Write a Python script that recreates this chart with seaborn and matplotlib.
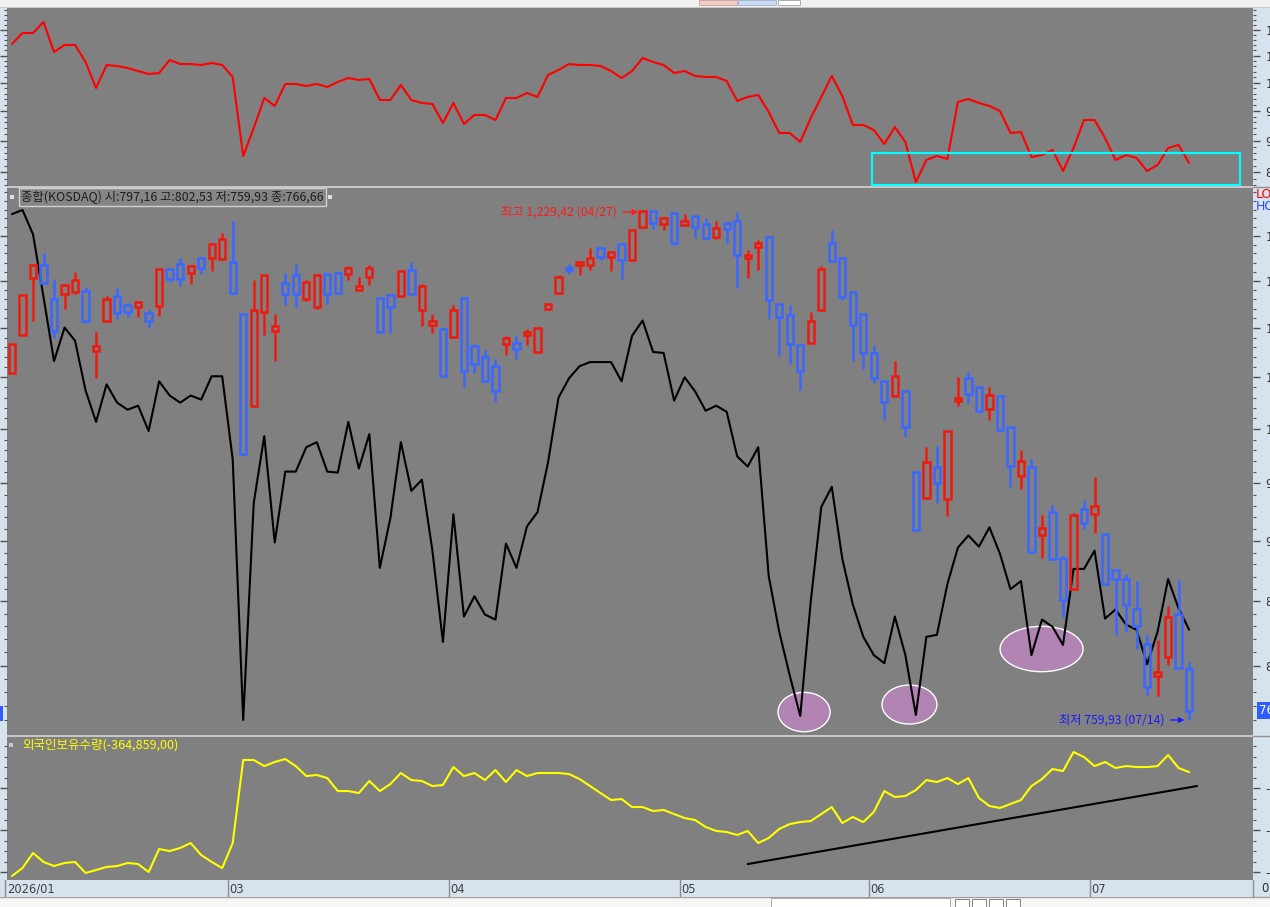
import numpy as np
import pandas as pd
import matplotlib
matplotlib.use("Agg")
import matplotlib.pyplot as plt
import matplotlib.transforms as mtransforms
from matplotlib.patches import Rectangle, Ellipse
from matplotlib.lines import Line2D
from matplotlib.ticker import FixedLocator, NullFormatter, FuncFormatter
import seaborn as sns

sns.set_style("white")
plt.rcParams['font.family'] = ['Noto Sans CJK KR', 'DejaVu Sans']

# ---------------- data ----------------
month_labels = ["2026/01", "03", "04", "05", "06", "07"]
month_index = [0, 21, 42, 64, 82, 103]

kosdaq_open = [1054.0, 1093.0, 1153.1, 1167.6, 1130.2, 1135.6, 1137.8, 1138.9, 1076.4, 1107.7,
               1133.5, 1123.7, 1121.6, 1115.2, 1122.7, 1163.1, 1168.7, 1158.7, 1175.4, 1175.4,
               1174.3, 1170.9, 1114.1, 1022.2, 1116.2, 1097.2, 1147.6, 1156.4, 1130.2, 1121.6,
               1157.6, 1158.7, 1157.6, 1140.0, 1154.2, 1131.3, 1134.5, 1133.5, 1162.0, 1118.4,
               1103.5, 1099.3, 1090.9, 1131.3, 1081.6, 1070.2, 1061.1, 1083.6, 1084.7, 1093.0,
               1075.4, 1119.4, 1136.7, 1164.2, 1167.6, 1167.6, 1185.6, 1176.5, 1190.1, 1173.2,
               1210.4, 1228.3, 1213.1, 1225.9, 1212.0, 1222.4, 1213.1, 1198.1, 1214.3, 1216.6,
               1175.4, 1186.7, 1198.1, 1124.8, 1113.0, 1082.6, 1084.7, 1118.4, 1191.3, 1175.4,
               1137.8, 1114.1, 1074.4, 1046.0, 1032.0, 1036.0, 960.6, 937.0, 964.4, 936.1,
               1027.1, 1049.0, 1040.0, 1019.3, 1031.1, 1001.9, 956.9, 964.4, 904.4, 924.5,
               885.6, 859.7, 927.2, 922.8, 905.3, 875.5, 868.0, 844.2, 816.5, 791.8,
               806.4, 840.2, 797.16]
kosdaq_high = [1083.6, 1134.5, 1168.7, 1181.0, 1152.0, 1146.5, 1159.8, 1143.2, 1096.2, 1133.5,
               1142.1, 1125.9, 1128.1, 1118.4, 1164.2, 1164.2, 1175.4, 1167.6, 1176.5, 1191.3,
               1202.7, 1216.6, 1114.1, 1150.9, 1156.4, 1114.1, 1158.7, 1168.7, 1150.9, 1157.6,
               1158.7, 1159.8, 1166.4, 1154.2, 1167.6, 1131.3, 1135.6, 1162.0, 1170.9, 1146.5,
               1114.1, 1100.3, 1123.7, 1132.4, 1083.6, 1077.4, 1068.2, 1092.0, 1092.0, 1099.3,
               1101.4, 1125.9, 1156.4, 1168.7, 1172.1, 1185.6, 1187.8, 1182.2, 1190.1, 1207.3,
               1229.42, 1228.3, 1221.3, 1225.9, 1224.8, 1222.4, 1220.1, 1216.6, 1214.3, 1227.1,
               1184.4, 1194.7, 1199.3, 1124.8, 1123.7, 1082.6, 1116.2, 1166.4, 1206.2, 1175.4,
               1137.8, 1114.1, 1082.6, 1046.0, 1066.2, 1036.0, 960.6, 982.9, 983.9, 998.1,
               1050.0, 1055.0, 1040.0, 1040.0, 1031.1, 1001.9, 980.1, 971.7, 921.9, 930.8,
               887.3, 923.7, 935.2, 956.0, 905.3, 875.5, 872.2, 866.3, 823.5, 819.6,
               845.9, 867.1, 802.53]
kosdaq_low = [1054.0, 1093.0, 1107.7, 1146.5, 1089.9, 1119.4, 1135.6, 1104.6, 1049.0, 1106.7,
              1109.8, 1110.9, 1110.9, 1100.3, 1112.0, 1148.7, 1144.3, 1146.5, 1157.6, 1160.9,
              1173.2, 1135.6, 975.4, 1022.2, 1093.0, 1066.2, 1123.7, 1121.6, 1128.1, 1119.4,
              1124.8, 1136.7, 1150.9, 1138.9, 1145.4, 1096.2, 1095.1, 1132.4, 1135.6, 1102.4,
              1095.1, 1050.0, 1089.9, 1040.0, 1054.0, 1045.0, 1026.1, 1072.3, 1068.2, 1082.6,
              1074.4, 1118.4, 1135.6, 1157.6, 1156.4, 1162.0, 1173.2, 1160.9, 1152.0, 1172.1,
              1209.3, 1207.3, 1206.2, 1189.0, 1212.0, 1197.0, 1195.8, 1195.8, 1191.3, 1142.1,
              1153.1, 1162.0, 1109.8, 1071.3, 1063.1, 1037.0, 1084.7, 1118.4, 1172.1, 1129.1,
              1066.2, 1058.0, 1044.0, 1008.6, 1032.0, 992.4, 907.9, 937.0, 932.5, 921.0,
              1022.2, 1025.1, 1015.4, 1008.6, 997.1, 946.9, 945.1, 890.7, 885.6, 883.9,
              837.8, 858.9, 909.6, 906.1, 863.0, 823.5, 825.9, 812.6, 777.9, 777.1,
              800.2, 797.2, 759.93]
kosdaq_close = [1083.6, 1134.5, 1167.6, 1147.6, 1097.2, 1145.4, 1150.9, 1106.7, 1081.6, 1130.2,
                1115.2, 1116.2, 1127.0, 1106.7, 1163.1, 1152.0, 1152.0, 1166.4, 1164.2, 1190.1,
                1195.8, 1136.7, 976.4, 1118.4, 1156.4, 1102.4, 1135.6, 1135.6, 1148.7, 1156.4,
                1135.6, 1136.7, 1164.2, 1144.3, 1164.2, 1096.2, 1121.6, 1160.9, 1135.6, 1144.3,
                1107.7, 1051.0, 1118.4, 1056.0, 1063.1, 1046.0, 1036.0, 1089.9, 1078.5, 1096.2,
                1100.3, 1124.8, 1154.2, 1162.0, 1170.9, 1175.4, 1176.5, 1182.2, 1173.2, 1206.2,
                1228.3, 1214.3, 1220.1, 1191.3, 1216.6, 1209.6, 1197.0, 1208.5, 1207.3, 1178.8,
                1178.8, 1191.3, 1129.1, 1110.9, 1083.6, 1056.0, 1107.7, 1163.1, 1172.1, 1132.4,
                1103.5, 1074.4, 1049.0, 1026.1, 1051.0, 1001.9, 908.8, 968.9, 950.5, 998.1,
                1030.1, 1034.0, 1017.3, 1033.0, 999.0, 966.1, 969.8, 890.7, 910.5, 884.8,
                850.7, 921.9, 914.9, 929.9, 863.8, 868.0, 846.7, 830.6, 784.3, 794.9,
                837.8, 797.9, 766.66]

# black comparison line in the price panel (relative units, no axis shown)
sub_index = [104.4, 105.2, 100.4, 88.0, 75.4, 82.0, 79.4, 69.6, 63.4, 70.8,
             67.2, 65.8, 66.6, 61.6, 71.4, 68.6, 67.2, 68.6, 67.8, 72.4,
             72.4, 56.0, 4.6, 47.4, 60.6, 39.6, 53.6, 53.6, 58.4, 59.4,
             53.6, 53.4, 63.4, 54.2, 61.0, 34.6, 44.4, 59.4, 49.8, 52.0,
             38.0, 20.0, 45.2, 25.0, 29.0, 25.4, 24.4, 39.4, 34.6, 42.8,
             45.6, 55.4, 68.2, 72.0, 74.4, 75.2, 75.2, 75.2, 71.4, 80.4,
             83.4, 77.2, 77.0, 67.6, 72.2, 69.4, 65.6, 66.6, 65.4, 56.6,
             54.6, 58.4, 33.0, 22.0, 13.4, 5.4, 28.0, 46.6, 50.6, 36.4,
             27.4, 21.0, 17.4, 15.8, 25.0, 17.4, 5.6, 21.0, 21.4, 31.4,
             38.6, 41.0, 38.8, 42.6, 37.4, 30.4, 32.0, 17.4, 24.4, 23.0,
             19.4, 34.4, 34.4, 38.0, 24.6, 26.4, 23.4, 22.4, 15.6, 22.0,
             32.4, 26.6, 22.4]

# red line of the upper panel
upper_index = [10724, 10940, 10940, 11161, 10569, 10705, 10705, 10379, 9901, 10323,
               10304, 10267, 10211, 10156, 10174, 10417, 10341, 10341, 10323, 10360,
               10323, 10101, 8751, 9208, 9723, 9583, 9973, 9973, 9937, 9973,
               9919, 10010, 10082, 10046, 10064, 9688, 9688, 9955, 9688, 9635,
               9618, 9292, 9635, 9275, 9428, 9428, 9342, 9723, 9723, 9812,
               9741, 10137, 10230, 10341, 10323, 10323, 10304, 10211, 10082, 10211,
               10455, 10379, 10323, 10174, 10211, 10119, 10101, 10101, 10028, 9670,
               9741, 9776, 9479, 9125, 9125, 8977, 9377, 9741, 10119, 9759,
               9258, 9258, 9174, 8944, 9224, 8977, 8348, 8688, 8751, 8704,
               9653, 9706, 9635, 9583, 9496, 9125, 9141, 8735, 8767, 8847,
               8517, 8879, 9342, 9342, 9042, 8688, 8767, 8720, 8517, 8610,
               8879, 8928, 8641]

# foreign holdings (yellow, lower panel)
foreign_holdings = [-463800, -456200, -441900, -450400, -454300, -451400, -450400, -460900, -458100, -455200,
                    -454300, -451400, -452400, -460000, -438100, -440000, -437100, -432400, -443800, -450400,
                    -456200, -432400, -353300, -353300, -359100, -355200, -352400, -359100, -368600, -367600,
                    -370500, -382900, -382900, -384800, -373300, -382900, -376200, -365700, -372400, -373300,
                    -378100, -377100, -360000, -368600, -365700, -372400, -362900, -374300, -362900, -368600,
                    -365700, -365700, -365700, -366700, -371400, -378100, -384800, -391400, -390500, -398100,
                    -398100, -401900, -400900, -404800, -408600, -410500, -417100, -420900, -421900, -424700,
                    -420900, -432400, -427600, -419000, -414300, -412400, -411400, -404800, -398100, -413300,
                    -407600, -412400, -402800, -382900, -388600, -387600, -381900, -372400, -374300, -370500,
                    -376200, -370500, -389500, -397100, -399000, -395200, -391400, -378100, -371400, -361900,
                    -363800, -345700, -350500, -359100, -355200, -360900, -359100, -360000, -360000, -359100,
                    -348600, -360900, -364859]

trend_x = [70.0, 112.75]
trend_y = [-452400, -378100]

price_ticks = [800, 850, 900, 950, 1000, 1050, 1100, 1150, 1200]
upper_ticks = [8500, 9000, 9500, 10000, 10500, 11000]
holding_ticks = [-460000, -420000, -380000]

title_text = "종합(KOSDAQ) 시:797,16 고:802,53 저:759,93 종:766,66"
holding_text = "외국인보유수량(-364,859,00)"
high_text = "최고 1,229,42 (04/27)"
low_text = "최저 759,93 (07/14)"

# ---------------- layout ----------------
W, H = 1270, 907
fig = plt.figure(figsize=(W / 100, H / 100), dpi=100)
fig.patch.set_facecolor('#c6c6c6')

def rect(x0, y0, x1, y1):
    return [x0 / W, 1 - y1 / H, (x1 - x0) / W, (y1 - y0) / H]

def fig_box(x0, y0, x1, y1, fc, ec='none', lw=0, z=-1):
    fig.patches.append(Rectangle((x0 / W, 1 - y1 / H), (x1 - x0) / W, (y1 - y0) / H,
                                 transform=fig.transFigure, facecolor=fc, edgecolor=ec,
                                 linewidth=lw, zorder=z))

def fig_hline(y, x0, x1, color, lw=1, z=-0.5):
    fig.lines.append(Line2D([x0 / W, x1 / W], [1 - y / H, 1 - y / H], transform=fig.transFigure,
                            color=color, linewidth=lw, zorder=z))

AXIS_BG = '#d6e2ee'
PLOT_BG = '#808080'
RED = '#ee1a10'
BLUE = '#3a68ff'

# chrome
fig_box(0, 0, 1270, 7, '#f0f0f0')
fig_box(699, 0, 737, 5, '#f3c9c4', '#c0a0a0', 0.6)
fig_box(738, 0, 776, 5, '#c9dbf0', '#a0b0c8', 0.6)
fig_box(778, 0, 800, 5, '#ffffff', '#a0a0a0', 0.6)
fig_box(0, 8, 7, 880, AXIS_BG)
fig_box(1253, 8, 1270, 897, AXIS_BG)
fig_box(0, 897, 1270, 907, '#f6f6f6')
fig_box(771, 898, 950, 907, '#ffffff', '#a0a0a0', 0.6)
for bx in (955, 972, 989, 1006):
    fig_box(bx, 899, bx + 14, 907, '#ffffff', '#707070', 0.6)
fig_hline(187, 1253, 1270, '#909090')
fig_hline(736, 1253, 1270, '#909090')
fig_hline(897, 0, 1270, '#a0a0a0')

slot = 10.51
first_px = 12.0
xlim_plot = ((7 - first_px) / slot, (1253 - first_px) / slot)

ax_top = fig.add_axes(rect(7, 8, 1253, 186))
ax_main = fig.add_axes(rect(7, 188, 1253, 735))
ax_bot = fig.add_axes(rect(7, 737, 1253, 880))
ax_date = fig.add_axes(rect(0, 880, 1253, 897))

idx = np.arange(len(kosdaq_close))
df = pd.DataFrame({"idx": idx, "black": sub_index, "upper": upper_index,
                   "holding": foreign_holdings})

for ax in (ax_top, ax_main, ax_bot):
    ax.set_facecolor(PLOT_BG)
    ax.set_xlim(*xlim_plot)
    ax.set_xticks([])
    for s in ax.spines.values():
        s.set_visible(False)

# ---- top panel ----
ax_top.set_yscale('log')
sns.lineplot(data=df, x="idx", y="upper", ax=ax_top, color='#ff0000', linewidth=1.5, estimator=None)
ax_top.set_ylim(8287.4, 11448)
ax_top.add_patch(Rectangle((0.6942, 0.0056), 0.2954, 0.1798, transform=ax_top.transAxes,
                           fill=False, edgecolor='#00ffff', linewidth=1.6, zorder=5))

# ---- main panel ----
ax_main.set_ylim(1.637, 109.54)
ax_main.set_yticks([])
for cx, cy, w, h in [(0.6397, 0.0420, 0.0418, 0.0720), (0.7243, 0.0557, 0.0441, 0.0713),
                     (0.8303, 0.1572, 0.0666, 0.0830)]:
    ax_main.add_patch(Ellipse((cx, cy), w, h, transform=ax_main.transAxes,
                              facecolor='#b184b3', edgecolor='white', linewidth=1, zorder=1))
sns.lineplot(data=df, x="idx", y="black", ax=ax_main, color='black', linewidth=1.5,
             estimator=None, zorder=2)

ax_price = ax_main.twinx()
ax_price.set_yscale('log')
ax_price.set_ylim(749.25, 1255.2)
ax_price.set_xlim(*xlim_plot)
for s in ax_price.spines.values():
    s.set_visible(False)
ax_price.patch.set_visible(False)

for i, (o, h, l, c) in enumerate(zip(kosdaq_open, kosdaq_high, kosdaq_low, kosdaq_close)):
    col = RED if c >= o else BLUE
    top, bot = max(o, c), min(o, c)
    ax_price.add_patch(Rectangle((i - 0.3, bot), 0.6, top - bot, facecolor='none',
                                 edgecolor=col, linewidth=1.8, zorder=3))
    if h > top:
        ax_price.vlines(i, top, h, color=col, linewidth=1.8, zorder=3)
    if l < bot:
        ax_price.vlines(i, l, bot, color=col, linewidth=1.8, zorder=3)

ax_price.annotate(high_text, xy=(60 - 0.42, 1227.0), xytext=(-21, 0), textcoords='offset pixels',
                  ha='right', va='center', color='#ff1a1a', fontsize=8.8,
                  arrowprops=dict(arrowstyle='-|>', color='#ff1a1a', lw=1.0,
                                  shrinkA=2, shrinkB=0, mutation_scale=8))
ax_price.annotate(low_text, xy=(112 - 0.45, 759.93), xytext=(-20, 0), textcoords='offset pixels',
                  ha='right', va='center', color='#1a1aff', fontsize=8.8,
                  arrowprops=dict(arrowstyle='-|>', color='#1a1aff', lw=1.0,
                                  shrinkA=2, shrinkB=0, mutation_scale=8))

blend = mtransforms.blended_transform_factory(ax_price.transAxes, ax_price.transData)
ax_price.text(1.0048, kosdaq_close[-1], "766,66", transform=blend, ha='left', va='center',
              color='white', fontsize=8.5, family='DejaVu Sans',
              bbox=dict(boxstyle='square,pad=0.15', facecolor='#2f5cff', edgecolor='none'))

# ---- bottom panel ----
sns.lineplot(data=df, x="idx", y="holding", ax=ax_bot, color='#ffff00', linewidth=1.5, estimator=None)
ax_bot.plot(trend_x, trend_y, color='black', linewidth=1.5, zorder=4)
ax_bot.set_ylim(-467600, -331400)

# ---- right-hand scales ----
def style_y(ax, majors, minors, fmt):
    ax.yaxis.set_major_locator(FixedLocator(majors))
    ax.yaxis.set_minor_locator(FixedLocator(minors))
    ax.yaxis.set_major_formatter(FuncFormatter(fmt))
    ax.yaxis.set_minor_formatter(NullFormatter())
    ax.tick_params(axis='y', which='both', direction='out', left=True, right=True,
                   labelleft=False, labelright=True, colors='#505050',
                   labelcolor='#303030', labelsize=8.5, pad=4)
    ax.tick_params(axis='y', which='major', length=5, width=1)
    ax.tick_params(axis='y', which='minor', length=2.5, width=0.8)
    for lab in ax.get_yticklabels():
        lab.set_family('DejaVu Sans')
    ax.set_xlabel('')
    ax.set_ylabel('')

style_y(ax_price, price_ticks, list(range(760, 1260, 10)), lambda v, p: f"{v:,.0f}")
style_y(ax_top, upper_ticks, list(range(8300, 11500, 100)), lambda v, p: f"{v:,.0f}")
style_y(ax_bot, holding_ticks, list(range(-460000, -330000, 10000)), lambda v, p: f"{v:,.0f}")
ax_main.set_xlabel('')
ax_main.set_ylabel('')

# ---- date strip ----
ax_date.set_facecolor(AXIS_BG)
ax_date.set_xlim((0 - first_px) / slot, xlim_plot[1])
ax_date.set_ylim(0, 1)
ax_date.set_xticks([])
ax_date.set_yticks([])
for s in ax_date.spines.values():
    s.set_visible(False)
for lab, mi in zip(month_labels, month_index):
    xpos = mi - 0.45 if mi > 0 else mi - 0.62
    ax_date.axvline(xpos, color='#8c8c8c', linewidth=1)
    ax_date.text(xpos + 0.12, 0.45, lab, ha='left', va='center', fontsize=8.3,
                 color='#404040', family='DejaVu Sans')
fig.text(1261 / W, 1 - 889 / H, "0", fontsize=8.5, color='#303030', va='center', family='DejaVu Sans')
fig.lines.append(Line2D([1253 / W, 1253 / W], [1 - 897 / H, 1 - 880 / H], transform=fig.transFigure,
                        color='#909090', linewidth=1))

# ---- labels ----
fig.text(21 / W, 1 - 197 / H, title_text, ha='left', va='center', fontsize=8.9, color='#1e1e1e',
         bbox=dict(boxstyle='square,pad=0.18', facecolor='#858585', edgecolor='#d0d0d0', linewidth=1),
         zorder=6)
fig_box(10, 195, 14, 199, '#e0e0e0', z=7)
fig_box(328, 195, 332, 199, '#e0e0e0', z=7)
fig.text(22 / W, 1 - 745 / H, holding_text, ha='left', va='center', fontsize=9.0, color='#ffff00', zorder=6)
fig_box(9, 743, 13, 747, '#c8c8c8', z=7)
fig.text(1256 / W, 1 - 194 / H, "LOW", ha='left', va='center', fontsize=9, color='#ff0000',
         family='DejaVu Sans')
fig.text(1256 / W, 1 - 207 / H, "HOLD", ha='left', va='center', fontsize=9, color='#2050ff',
         family='DejaVu Sans')
fig_box(0, 706, 3, 721, '#2f5cff', z=7)

fig.savefig("out.png", dpi=100, facecolor=fig.get_facecolor())
